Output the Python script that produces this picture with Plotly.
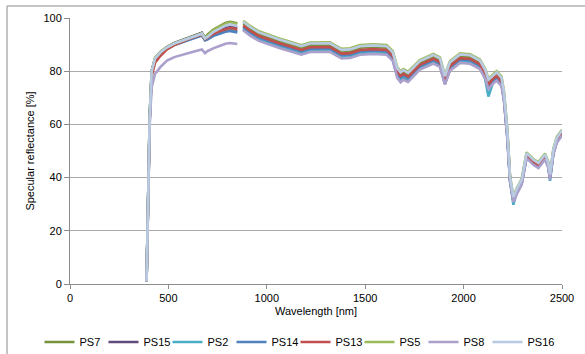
import plotly.graph_objects as go

# Wavelength samples [nm]: VIS/NIR segment and SWIR segment (detector change gap between)
wl_seg1 = [389, 398, 405, 415, 432, 460, 493, 530, 560, 600, 640, 670, 686, 700, 727, 760, 790, 813, 835, 850]
wl_seg2 = [880, 915, 960, 1016, 1067, 1110, 1150, 1175, 1220, 1280, 1321, 1350, 1380, 1423, 1474, 1540,
           1609, 1640, 1663, 1680, 1694, 1718, 1745, 1778, 1846, 1880, 1905, 1931, 1982, 2033, 2083, 2110,
           2126, 2150, 2168, 2193, 2205, 2222, 2236, 2253, 2270, 2295, 2320, 2354, 2380, 2414, 2430, 2439,
           2456, 2473, 2500]

series_names = ["PS7", "PS15", "PS2", "PS14", "PS13", "PS5", "PS8", "PS16"]

ps7_seg1 = [1, 40, 63, 80, 85.0, 87.3, 89.2, 90.6, 91.4, 92.6, 93.6, 94.4, 92.6, 93.8, 95.6, 97.0, 98.1, 98.6, 98.4, 98.0]
ps7_seg2 = [98.0, 96.0, 94.0, 92.4, 91.2, 90.3, 89.2, 88.8, 89.8, 90.0, 89.9, 88.6, 87.4, 87.6, 88.8, 89.1,
            88.8, 86.5, 80.5, 79.0, 79.8, 78.8, 80.8, 83.2, 85.5, 84.2, 77.5, 82.8, 85.7, 85.4, 83.4, 79.8,
            76.2, 78.0, 79.0, 77.0, 71.5, 57.5, 39.9, 31.0, 35.4, 38.9, 48.9, 46.4, 45.2, 48.4, 45.4, 40.0,
            50.2, 54.6, 57.4]

ps15_seg1 = [1, 40, 63, 80, 84.6, 87.0, 89.0, 90.5, 91.4, 92.6, 93.6, 94.4, 92.4, 93.0, 94.6, 95.7, 96.6, 97.0, 96.8, 96.4]
ps15_seg2 = [95.8, 93.8, 91.8, 90.2, 89.0, 88.1, 87.0, 86.6, 87.6, 87.8, 87.7, 86.4, 85.2, 85.4, 86.6, 86.9,
             86.6, 84.3, 78.3, 76.8, 77.6, 76.6, 78.6, 81.0, 83.3, 82.0, 75.3, 80.6, 83.5, 83.2, 81.2, 77.6,
             73.6, 75.8, 76.8, 74.8, 69.3, 55.3, 38.7, 31.2, 34.2, 37.7, 47.7, 45.2, 44.0, 47.2, 44.2, 39.7,
             49.0, 53.4, 56.2]

ps2_seg1 = [1, 40, 62, 79, 84.2, 86.6, 88.6, 90.0, 90.8, 92.0, 93.0, 93.6, 91.8, 92.2, 93.5, 94.5, 95.2, 95.5, 95.3, 95.0]
ps2_seg2 = [96.2, 94.2, 92.2, 90.6, 89.4, 88.5, 87.4, 87.0, 88.0, 88.2, 88.1, 86.5, 85.4, 85.8, 87.0, 87.3,
            87.0, 84.7, 78.5, 77.0, 78.0, 77.0, 79.0, 81.4, 83.7, 82.4, 75.5, 81.0, 83.9, 83.6, 81.6, 77.0,
            70.5, 75.8, 77.2, 75.2, 69.7, 55.7, 38.9, 29.8, 34.4, 37.9, 47.9, 45.4, 44.2, 47.4, 44.4, 38.8,
            49.2, 53.6, 56.4]

ps14_seg1 = [1, 40, 62, 79, 84.0, 86.4, 88.4, 89.8, 90.6, 91.8, 92.8, 93.4, 91.6, 92.0, 93.2, 94.1, 94.8, 95.1, 94.9, 94.6]
ps14_seg2 = [96.7, 94.7, 92.7, 91.1, 89.9, 89.0, 87.9, 87.5, 88.5, 88.7, 88.6, 87.3, 86.1, 86.3, 87.5, 87.8,
             87.5, 85.2, 79.2, 77.7, 78.5, 77.5, 79.5, 81.9, 84.2, 82.9, 76.2, 81.5, 84.4, 84.1, 82.1, 78.5,
             74.0, 76.7, 77.7, 75.7, 70.2, 56.2, 39.2, 31.5, 34.7, 38.2, 48.2, 45.7, 44.5, 47.7, 44.7, 40.0,
             49.5, 53.9, 56.7]

ps13_seg1 = [1, 39, 61, 78, 83.2, 85.8, 88.2, 89.8, 90.8, 92.0, 93.0, 93.8, 92.0, 92.6, 94.0, 95.0, 95.8, 96.2, 96.0, 95.6]
ps13_seg2 = [97.2, 95.2, 93.2, 91.6, 90.4, 89.5, 88.4, 88.0, 89.0, 89.2, 89.1, 87.8, 86.6, 86.8, 88.0, 88.3,
             88.0, 85.7, 79.7, 78.2, 79.0, 78.0, 80.0, 82.4, 84.7, 83.4, 76.7, 82.0, 84.9, 84.6, 82.6, 79.0,
             75.0, 77.2, 78.2, 76.2, 70.7, 56.7, 39.5, 32.0, 35.0, 38.5, 48.5, 46.0, 44.8, 48.0, 45.0, 40.5,
             49.8, 54.2, 57.0]

ps5_seg1 = [1, 40, 63, 80, 84.8, 87.1, 89.0, 90.4, 91.2, 92.4, 93.4, 94.2, 92.4, 93.5, 95.3, 96.7, 97.8, 98.3, 98.1, 97.7]
ps5_seg2 = [99.0, 97.0, 95.0, 93.4, 92.2, 91.3, 90.2, 89.8, 90.8, 91.0, 90.9, 89.6, 88.4, 88.6, 89.8, 90.1,
            89.8, 87.5, 81.5, 80.0, 80.8, 79.8, 81.8, 84.2, 86.5, 85.2, 78.5, 83.8, 86.7, 86.4, 84.4, 80.8,
            77.2, 79.0, 80.0, 78.0, 72.5, 58.5, 40.5, 33.0, 36.0, 39.5, 49.5, 47.0, 45.8, 49.0, 46.0, 41.5,
            50.8, 55.2, 58.0]

ps8_seg1 = [1, 38, 60, 74, 79.0, 81.6, 84.0, 85.3, 86.0, 86.8, 87.6, 88.2, 86.8, 87.6, 88.6, 89.5, 90.3, 90.6, 90.4, 90.2]
ps8_seg2 = [95.4, 93.4, 91.4, 89.8, 88.6, 87.7, 86.6, 86.2, 87.2, 87.4, 87.3, 86.0, 84.8, 85.0, 86.2, 86.5,
            86.2, 83.9, 77.5, 75.8, 76.8, 76.0, 78.0, 80.6, 82.9, 81.6, 75.0, 80.2, 83.1, 82.8, 80.8, 77.2,
            73.2, 75.4, 76.4, 74.4, 68.9, 54.9, 38.3, 30.8, 33.8, 37.3, 47.3, 44.8, 43.6, 46.8, 43.8, 39.3,
            48.6, 53.0, 55.8]

ps16_seg1 = [1, 40, 63, 80, 84.8, 87.1, 89.0, 90.4, 91.2, 92.4, 93.4, 94.1, 92.3, 93.0, 94.7, 96.0, 97.1, 97.6, 97.4, 97.0]
ps16_seg2 = [98.6, 96.6, 94.6, 93.0, 91.8, 90.9, 89.8, 89.4, 90.4, 90.6, 90.5, 89.2, 88.0, 88.2, 89.4, 89.7,
             89.4, 87.1, 81.1, 79.6, 80.4, 79.4, 81.4, 83.8, 86.1, 84.8, 78.1, 83.4, 86.3, 86.0, 84.0, 80.4,
             76.8, 78.6, 79.6, 77.6, 72.1, 58.1, 40.2, 32.7, 35.7, 39.2, 49.2, 46.7, 45.5, 48.7, 45.7, 41.2,
             50.5, 54.9, 57.7]

series_values = {
    "PS7": (ps7_seg1, ps7_seg2),
    "PS15": (ps15_seg1, ps15_seg2),
    "PS2": (ps2_seg1, ps2_seg2),
    "PS14": (ps14_seg1, ps14_seg2),
    "PS13": (ps13_seg1, ps13_seg2),
    "PS5": (ps5_seg1, ps5_seg2),
    "PS8": (ps8_seg1, ps8_seg2),
    "PS16": (ps16_seg1, ps16_seg2),
}

colors = {
    "PS7": "#77933C",
    "PS15": "#604A7B",
    "PS2": "#4BACC6",
    "PS14": "#4F81BD",
    "PS13": "#C0504D",
    "PS5": "#9BBB59",
    "PS8": "#AB9FCB",
    "PS16": "#B9CBE3",
}

x_ticks = [0, 500, 1000, 1500, 2000, 2500]
y_ticks = [0, 20, 40, 60, 80, 100]

fig = go.Figure()
for name in series_names:
    s1, s2 = series_values[name]
    fig.add_trace(go.Scatter(
        x=wl_seg1 + [None] + wl_seg2,
        y=s1 + [None] + s2,
        mode="lines",
        name=name,
        line=dict(color=colors[name], width=2.6),
        connectgaps=False,
        legendwidth=32 if name == series_names[-1] else 19,
    ))

font = "Liberation Sans, Arial, sans-serif"
fig.update_layout(
    width=585, height=354,
    margin=dict(l=70, r=23, t=18, b=70, autoexpand=False),
    paper_bgcolor="white", plot_bgcolor="white",
    font=dict(family=font, size=11, color="#000000"),
    showlegend=True,
    legend=dict(
        orientation="h", x=-0.062, xanchor="left", y=-0.218, yanchor="middle",
        font=dict(size=11, color="#000000"), entrywidthmode="pixels",
        itemwidth=30, bgcolor="rgba(0,0,0,0)", tracegroupgap=0,
    ),
    xaxis=dict(
        range=[0, 2500], tickvals=x_ticks, ticktext=[str(v) for v in x_ticks],
        showgrid=False, zeroline=False, showline=True, linecolor="#8C8C8C", linewidth=1,
        ticks="outside", ticklen=4, tickcolor="#8C8C8C",
        title=dict(text="Wavelength [nm]", standoff=4, font=dict(size=11)),
        automargin=False,
    ),
    yaxis=dict(
        range=[0, 100], tickvals=y_ticks, ticktext=[str(v) for v in y_ticks],
        showgrid=True, gridcolor="#ABABAB", gridwidth=1, zeroline=False,
        showline=True, linecolor="#8C8C8C", linewidth=1,
        ticks="outside", ticklen=5, tickcolor="#8C8C8C",
        title=dict(text="Specular reflectance [%]", standoff=6, font=dict(size=11)),
        automargin=False,
    ),
    shapes=[
        dict(type="line", xref="paper", yref="paper", x0=-0.128, x1=-0.128, y0=1.045, y1=-0.4,
             line=dict(color="#8C8C8C", width=1)),
        dict(type="line", xref="paper", yref="paper", x0=-0.128, x1=1.1, y0=1.045, y1=1.045,
             line=dict(color="#8C8C8C", width=1)),
    ],
)

fig.write_html("out.html")
